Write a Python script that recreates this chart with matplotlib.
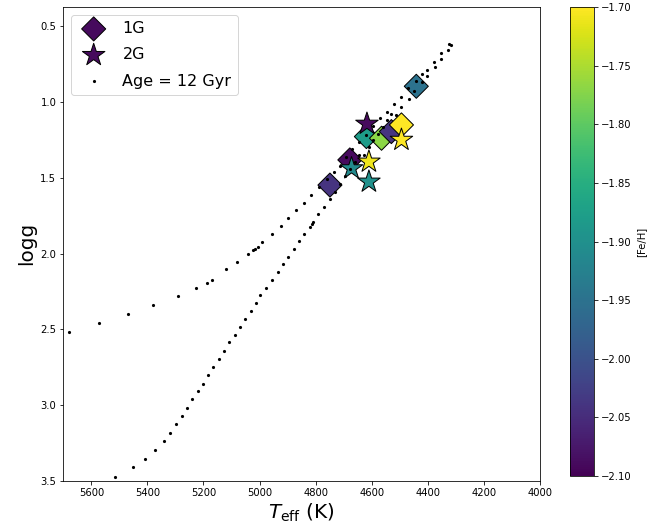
import numpy as np
import matplotlib
matplotlib.use('Agg')
import matplotlib.pyplot as plt

# isochrone, Age = 12 Gyr (upper branch, hot side)
iso_hb_teff = [5679, 5572, 5468, 5379, 5291, 5226, 5187, 5171, 5120, 5079, 5042, 5025,
               5017, 5007, 4993, 4956, 4925, 4897, 4870, 4842, 4815, 4788, 4760, 4735,
               4712, 4690, 4670, 4645, 4620, 4596, 4571, 4545, 4521, 4494, 4471, 4443,
               4421, 4403, 4378, 4352, 4324]
iso_hb_logg = [2.515, 2.458, 2.398, 2.340, 2.279, 2.224, 2.190, 2.175, 2.102, 2.056, 2.005, 1.977,
               1.966, 1.955, 1.924, 1.867, 1.818, 1.767, 1.714, 1.666, 1.611, 1.562, 1.510, 1.462,
               1.421, 1.365, 1.311, 1.265, 1.215, 1.160, 1.106, 1.062, 1.011, 0.963, 0.908, 0.857,
               0.813, 0.786, 0.733, 0.676, 0.614]

# isochrone, red giant branch
iso_rgb_teff = [5516, 5453, 5408, 5372, 5341, 5320, 5298, 5276, 5259, 5240, 5221, 5202,
                5185, 5165, 5146, 5127, 5108, 5089, 5070, 5051, 5032, 5012, 4997, 4977,
                4955, 4936, 4917, 4898, 4878, 4859, 4840, 4821, 4814, 4809, 4790, 4771,
                4750, 4731, 4712, 4695, 4678, 4661, 4645, 4627, 4610, 4594, 4577, 4560,
                4545, 4530, 4515, 4497, 4468, 4450, 4419, 4403, 4375, 4352, 4327, 4318]
iso_rgb_logg = [3.471, 3.410, 3.355, 3.293, 3.233, 3.183, 3.126, 3.070, 3.020, 2.962, 2.905, 2.857,
                2.800, 2.749, 2.693, 2.643, 2.585, 2.535, 2.484, 2.429, 2.376, 2.325, 2.275, 2.224,
                2.173, 2.122, 2.071, 2.021, 1.970, 1.915, 1.873, 1.825, 1.805, 1.792, 1.739, 1.690,
                1.642, 1.590, 1.540, 1.490, 1.440, 1.395, 1.349, 1.349, 1.298, 1.250, 1.210, 1.165,
                1.120, 1.080, 1.084, 1.033, 0.978, 0.923, 0.870, 0.826, 0.769, 0.714, 0.654, 0.621]

# first generation stars
g1_teff = [4678, 4749, 4441, 4619, 4565, 4530, 4494]
g1_logg = [1.381, 1.547, 0.895, 1.227, 1.238, 1.194, 1.150]
g1_feh = [-2.09, -2.04, -1.95, -1.88, -1.77, -2.04, -1.70]

# second generation stars
g2_teff = [4617, 4494, 4610, 4672, 4610]
g2_logg = [1.143, 1.249, 1.393, 1.437, 1.525]
g2_feh = [-2.09, -1.70, -1.71, -1.91, -1.90]


def main():
    fig = plt.figure(figsize=(671 / 72, 529 / 72), dpi=72)
    ax = fig.add_axes([0.0943, 0.0907, 0.7104, 0.8966])
    cax = fig.add_axes([0.8495, 0.1002, 0.0358, 0.886])

    sc = ax.scatter(g1_teff, g1_logg, c=g1_feh, cmap='viridis', vmin=-2.1, vmax=-1.7,
                    marker='D', s=290, edgecolors='black', linewidths=1, label='1G', zorder=2)
    ax.scatter(g2_teff, g2_logg, c=g2_feh, cmap='viridis', vmin=-2.1, vmax=-1.7,
               marker='*', s=560, edgecolors='black', linewidths=1, label='2G', zorder=3)

    iso_teff = np.array(iso_hb_teff + iso_rgb_teff)
    iso_logg = np.array(iso_hb_logg + iso_rgb_logg)
    ax.scatter(iso_teff, iso_logg, color='black', s=10, linewidths=0,
               label='Age = 12 Gyr', zorder=4)

    ax.set_xlim(5700, 4000)
    ax.set_ylim(3.5, 0.37)
    ax.set_xticks([5600, 5400, 5200, 5000, 4800, 4600, 4400, 4200, 4000])
    ax.set_yticks([0.5, 1.0, 1.5, 2.0, 2.5, 3.0, 3.5])
    ax.set_xlabel(r'$T_{\rm eff}$ (K)', fontsize=20)
    ax.set_ylabel('logg', fontsize=20)
    ax.legend(loc='upper left', fontsize=16, labelspacing=0.7)

    cb = fig.colorbar(sc, cax=cax)
    cb.set_ticks(np.arange(-2.10, -1.69, 0.05))
    cb.set_label('[Fe/H]')

    fig.savefig('out.png', dpi=72)


if __name__ == '__main__':
    main()
